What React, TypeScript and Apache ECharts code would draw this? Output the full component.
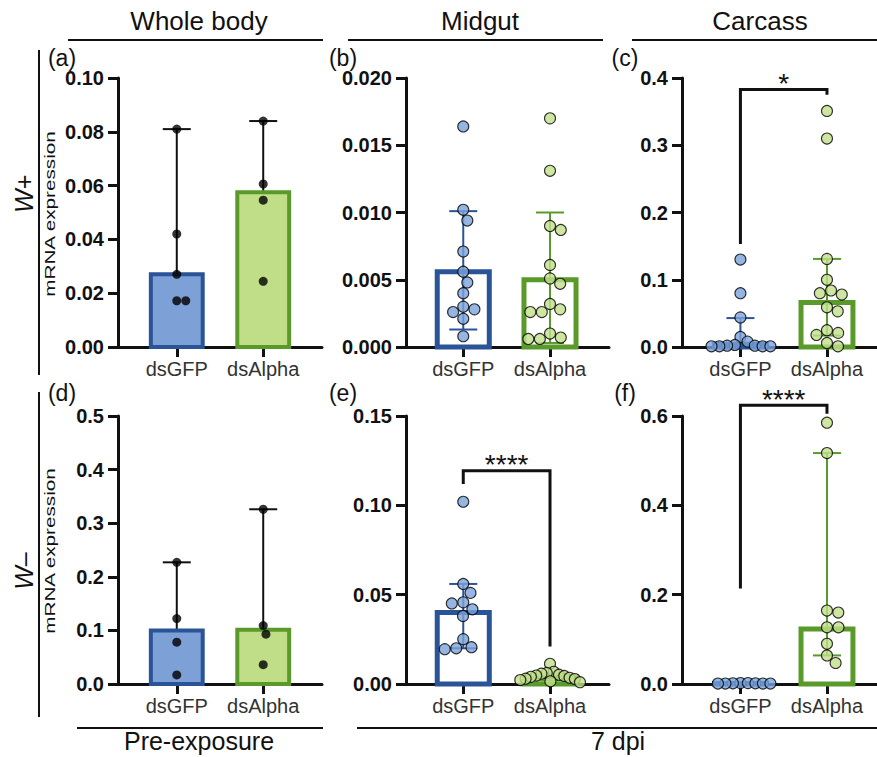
import React, { useEffect, useRef } from 'react';
import * as echarts from 'echarts';

// ---------------- data ----------------
const categories = ['dsGFP', 'dsAlpha'];
const columnTitles = ['Whole body', 'Midgut', 'Carcass'];
const bottomTitles = ['Pre-exposure', '7 dpi'];
const rowLabels = ['W+', 'W\u2013'];
const yTitle = 'mRNA expression';
const panelLetters = ['(a)', '(b)', '(c)', '(d)', '(e)', '(f)'];

const yMax = [0.1, 0.02, 0.4, 0.5, 0.15, 0.6];
const yInterval = [0.02, 0.005, 0.1, 0.1, 0.05, 0.2];
const yDecimals = [2, 3, 1, 1, 2, 1];

// (a) Whole body, W+
const aGFP = [0.081, 0.042, 0.027, 0.0172, 0.0172];
const aAlpha = [0.084, 0.0606, 0.0546, 0.0244];
const aBars = [0.027, 0.0575];
const aErrLow = [0.0172, 0.0244];
const aErrHigh = [0.081, 0.084];

// (b) Midgut, W+
const bGFP = [0.0164, 0.0102, 0.0094, 0.0071, 0.0056, 0.0048, 0.004, 0.003, 0.0028, 0.0026, 0.0021, 0.0008];
const bAlpha = [0.017, 0.0131, 0.009, 0.0087, 0.0061, 0.0051, 0.0047, 0.0032, 0.0028, 0.0026, 0.0026, 0.001, 0.0007, 0.0006, 0.0006];
const bBars = [0.0056, 0.005];
const bErrLow = [0.0013, 0.0003];
const bErrHigh = [0.0101, 0.01];

// (c) Carcass, W+
const cGFP = [0.13, 0.08, 0.044, 0.015, 0.008, 0.003, 0.002, 0.002, 0.001, 0.001, 0.001, 0.001];
const cAlpha = [0.351, 0.31, 0.131, 0.1, 0.084, 0.08, 0.078, 0.059, 0.053, 0.025, 0.021, 0.018, 0.006, 0.001];
const cBars = [0.004, 0.066];
const cErrLow = [0.001, 0.017];
const cErrHigh = [0.043, 0.131];

// (d) Whole body, W-
const dGFP = [0.227, 0.122, 0.078, 0.017];
const dAlpha = [0.326, 0.109, 0.093, 0.036];
const dBars = [0.1, 0.101];
const dErrLow = [0.017, 0.036];
const dErrHigh = [0.227, 0.326];

// (e) Midgut, W-
const eGFP = [0.102, 0.056, 0.051, 0.0457, 0.0451, 0.0418, 0.0381, 0.0251, 0.0206, 0.02, 0.0195];
const eAlpha = [0.0113, 0.0068, 0.0062, 0.0058, 0.0052, 0.0047, 0.0045, 0.004, 0.0035, 0.003, 0.0028, 0.0022, 0.0015, 0.001];
const eBars = [0.04, 0.004];
const eErrLow = [0.02, 0.002];
const eErrHigh = [0.056, 0.006];

// (f) Carcass, W-
const fGFP = [0.002, 0.002, 0.0015, 0.0015, 0.001, 0.001, 0.001, 0.001];
const fAlpha = [0.585, 0.517, 0.1645, 0.16, 0.127, 0.127, 0.09, 0.064, 0.047];
const fBars = [0.001, 0.123];
const fErrLow = [0.0005, 0.064];
const fErrHigh = [0.002, 0.517];

// significance brackets: [top, left leg end, right leg end], label
const cBracket = [0.383, 0.153, 0.375];
const eBracket = [0.1194, 0.112, 0.021];
const fBracket = [0.624, 0.214, 0.605];
const cSig = '*';
const eSig = '****';
const fSig = '****';

// ---------------- layout / style ----------------
const FONT = '"Liberation Sans", Arial, Helvetica, sans-serif';
const INK = '#111111';
const colLeft = [118, 406, 682];
const colWidth = [204, 203, 195];
const xMin = [-0.68, -0.66, -0.675];
const xMax = [1.68, 1.68, 1.578];
const rowTop = [78, 416];
const rowHeight = [269, 268];
const BLUE_FILL = '#7DA1D6';
const BLUE_LINE = '#2B5397';
const GREEN_FILL = '#C0DE87';
const GREEN_LINE = '#5A9A2A';
const BLUE_PT = '#7BA3DB';
const GREEN_PT = '#C3E08C';

const panelData = [
  { gfp: aGFP, alpha: aAlpha, bars: aBars, lo: aErrLow, hi: aErrHigh, br: null as null | number[], sig: '' },
  { gfp: bGFP, alpha: bAlpha, bars: bBars, lo: bErrLow, hi: bErrHigh, br: null as null | number[], sig: '' },
  { gfp: cGFP, alpha: cAlpha, bars: cBars, lo: cErrLow, hi: cErrHigh, br: cBracket, sig: cSig },
  { gfp: dGFP, alpha: dAlpha, bars: dBars, lo: dErrLow, hi: dErrHigh, br: null as null | number[], sig: '' },
  { gfp: eGFP, alpha: eAlpha, bars: eBars, lo: eErrLow, hi: eErrHigh, br: eBracket, sig: eSig },
  { gfp: fGFP, alpha: fAlpha, bars: fBars, lo: fErrLow, hi: fErrHigh, br: fBracket, sig: fSig },
];

// beeswarm layout in pixels, returns horizontal offsets (px)
function swarm(values: number[], pxPerY: number, diam: number, maxHalf: number): number[] {
  const placed: { x: number; y: number }[] = [];
  const out: number[] = [];
  for (const v of values) {
    const y = v * pxPerY;
    const cands = [0];
    for (const p of placed) {
      const dy = Math.abs(p.y - y);
      if (dy < diam) {
        const dx = Math.sqrt(diam * diam - dy * dy);
        cands.push(p.x + dx, p.x - dx);
      }
    }
    cands.sort((a, b) => Math.abs(a) - Math.abs(b) || b - a);
    let chosen = 0;
    for (const c of cands) {
      if (placed.every((p) => (p.x - c) ** 2 + (p.y - y) ** 2 >= diam * diam - 1e-6)) {
        chosen = c;
        break;
      }
    }
    placed.push({ x: chosen, y });
    out.push(chosen);
  }
  const m = Math.max(0, ...out.map((o) => Math.abs(o)));
  const k = m > maxHalf ? maxHalf / m : 1;
  return out.map((o) => o * k);
}

function buildOption() {
  const grids: any[] = [];
  const xAxes: any[] = [];
  const yAxes: any[] = [];
  const series: any[] = [];

  panelData.forEach((pd, i) => {
    const row = Math.floor(i / 3);
    const col = i % 3;
    const filled = col === 0;
    const unitX = colWidth[col] / (xMax[col] - xMin[col]);
    const pxPerY = rowHeight[row] / yMax[i];

    grids.push({
      left: colLeft[col],
      top: rowTop[row],
      width: colWidth[col],
      height: rowHeight[row],
      containLabel: false,
      outerBoundsMode: 'none',
    });
    xAxes.push({
      type: 'value',
      gridIndex: i,
      min: xMin[col],
      max: xMax[col],
      axisLine: { show: true, onZero: false, lineStyle: { color: INK, width: 3 } },
      axisTick: { show: true, customValues: [0, 1], length: 10, lineStyle: { color: INK, width: 3 } },
      axisLabel: {
        show: true,
        customValues: [0, 1],
        formatter: (v: number) => categories[Math.round(v)] ?? '',
        fontSize: 20,
        fontFamily: FONT,
        color: '#333',
        margin: 12,
      },
      splitLine: { show: false },
    });
    yAxes.push({
      type: 'value',
      gridIndex: i,
      min: 0,
      max: yMax[i],
      interval: yInterval[i],
      axisLine: { show: true, onZero: false, lineStyle: { color: INK, width: 3 } },
      axisTick: { show: true, length: 10, lineStyle: { color: INK, width: 3 } },
      axisLabel: {
        fontSize: 20,
        fontWeight: 'bold',
        fontFamily: FONT,
        color: INK,
        margin: 14,
        formatter: (v: number) => v.toFixed(yDecimals[i]),
      },
      splitLine: { show: false },
    });

    const lineCols = [BLUE_LINE, GREEN_LINE];
    const fillCols = filled ? [BLUE_FILL, GREEN_FILL] : ['#ffffff', '#ffffff'];
    const barLW = filled ? 4 : 5;

    // bars
    series.push({
      type: 'custom',
      xAxisIndex: i,
      yAxisIndex: i,
      z: filled ? 3 : 2,
      silent: true,
      clip: false,
      data: pd.bars.map((v, k) => [k, v]),
      renderItem: (params: any, api: any) => {
        const k = api.value(0);
        const v = api.value(1);
        const p0 = api.coord([k - 0.3, v]);
        const p1 = api.coord([k + 0.3, 0]);
        return {
          type: 'rect',
          shape: { x: p0[0], y: p0[1], width: p1[0] - p0[0], height: p1[1] - p0[1] },
          style: { fill: fillCols[k], stroke: lineCols[k], lineWidth: barLW },
        };
      },
    });

    // error bars
    series.push({
      type: 'custom',
      xAxisIndex: i,
      yAxisIndex: i,
      z: filled ? 2 : 3,
      silent: true,
      clip: false,
      data: pd.lo.map((lo, k) => [k, lo, pd.hi[k]]),
      renderItem: (params: any, api: any) => {
        const k = api.value(0);
        const pl = api.coord([k, api.value(1)]);
        const ph = api.coord([k, api.value(2)]);
        const color = filled ? INK : lineCols[k];
        const st = { stroke: color, lineWidth: 2 };
        const cap = 14;
        return {
          type: 'group',
          children: [
            { type: 'line', shape: { x1: pl[0], y1: pl[1], x2: ph[0], y2: ph[1] }, style: st },
            { type: 'line', shape: { x1: ph[0] - cap, y1: ph[1], x2: ph[0] + cap, y2: ph[1] }, style: st },
            { type: 'line', shape: { x1: pl[0] - cap, y1: pl[1], x2: pl[0] + cap, y2: pl[1] }, style: st },
          ],
        };
      },
    });

    // points
    const groups = [pd.gfp, pd.alpha];
    groups.forEach((vals, k) => {
      const diam = filled ? 9 : 11.5;
      const offs = swarm(vals, pxPerY, diam, 30);
      series.push({
        type: 'scatter',
        xAxisIndex: i,
        yAxisIndex: i,
        z: 5,
        silent: true,
        clip: false,
        symbol: 'circle',
        symbolSize: filled ? 9 : 11,
        itemStyle: filled
          ? { color: '#000000' }
          : { color: k === 0 ? BLUE_PT : GREEN_PT, borderColor: '#000000', borderWidth: 1.1 },
        data: vals.map((v, j) => [k + offs[j] / unitX, v]),
      });
    });

    // significance bracket
    if (pd.br) {
      const br = pd.br;
      const sig = pd.sig;
      series.push({
        type: 'custom',
        xAxisIndex: i,
        yAxisIndex: i,
        z: 6,
        silent: true,
        clip: false,
        data: [br],
        renderItem: (params: any, api: any) => {
          const top = api.value(0);
          const pL = api.coord([0, api.value(1)]);
          const pLT = api.coord([0, top]);
          const pRT = api.coord([1, top]);
          const pR = api.coord([1, api.value(2)]);
          return {
            type: 'group',
            children: [
              {
                type: 'polyline',
                shape: { points: [pL, pLT, pRT, pR] },
                style: { stroke: INK, lineWidth: 3, fill: 'none', lineJoin: 'miter' },
              },
              {
                type: 'text',
                x: (pLT[0] + pRT[0]) / 2,
                y: pLT[1] - 6,
                style: {
                  text: sig,
                  fill: INK,
                  fontSize: 28,
                  fontFamily: FONT,
                  align: 'center',
                  textAlign: 'center',
                  verticalAlign: 'middle',
                  textVerticalAlign: 'middle',
                },
              },
            ],
          };
        },
      });
    }
  });

  const txt = (text: string, x: number, y: number, size: number, extra: any = {}) => ({
    type: 'text',
    x,
    y,
    silent: true,
    ...extra.el,
    style: {
      text,
      fill: INK,
      fontSize: size,
      fontFamily: FONT,
      align: 'center',
      textAlign: 'center',
      verticalAlign: 'middle',
      textVerticalAlign: 'middle',
      ...extra.style,
    },
  });
  const hline = (x1: number, x2: number, y: number) => ({
    type: 'line',
    silent: true,
    shape: { x1, y1: y, x2, y2: y },
    style: { stroke: INK, lineWidth: 2 },
  });
  const vline = (x: number, y1: number, y2: number) => ({
    type: 'line',
    silent: true,
    shape: { x1: x, y1, x2: x, y2 },
    style: { stroke: INK, lineWidth: 2 },
  });

  const graphics: any[] = [
    txt(columnTitles[0], 199, 21, 26),
    txt(columnTitles[1], 480, 21, 26),
    txt(columnTitles[2], 760, 21, 26),
    hline(68, 323, 40),
    hline(348, 603, 40),
    hline(632, 880, 40),
    hline(77, 323, 728),
    hline(357, 880, 728),
    txt(bottomTitles[0], 199, 741, 25),
    txt(bottomTitles[1], 618, 741, 25),
    vline(39, 50, 375),
    vline(39, 392, 717),
    txt(rowLabels[0], 24, 194, 25, { el: { rotation: Math.PI / 2 }, style: { fontStyle: 'italic' } }),
    txt(rowLabels[1], 24, 571, 25, { el: { rotation: Math.PI / 2 }, style: { fontStyle: 'italic' } }),
    txt(yTitle, 50, 214, 15, { el: { rotation: Math.PI / 2, scaleX: 1.38 } }),
    txt(yTitle, 50, 551, 15, { el: { rotation: Math.PI / 2, scaleX: 1.38 } }),
    txt(panelLetters[0], 62, 58, 23),
    txt(panelLetters[1], 343, 58, 23),
    txt(panelLetters[2], 625, 58, 23),
    txt(panelLetters[3], 62, 393, 23),
    txt(panelLetters[4], 343, 393, 23),
    txt(panelLetters[5], 625, 393, 23),
  ];

  return {
    animation: false,
    backgroundColor: '#ffffff',
    textStyle: { fontFamily: FONT },
    grid: grids,
    xAxis: xAxes,
    yAxis: yAxes,
    series,
    graphic: { elements: graphics },
  };
}

export default function App() {
  const ref = useRef<HTMLDivElement>(null);
  useEffect(() => {
    if (!ref.current) return;
    const chart = echarts.init(ref.current, null, { renderer: 'svg' });
    chart.setOption(buildOption() as any);
    return () => chart.dispose();
  }, []);
  return (
    <div
      ref={ref}
      style={{ position: 'absolute', left: 0, top: 0, width: 877, height: 757, background: '#fff' }}
    />
  );
}
